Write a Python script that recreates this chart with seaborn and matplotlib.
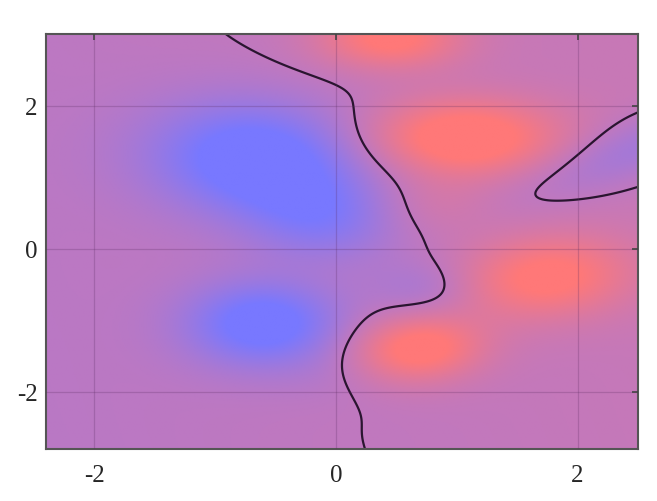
import numpy as np
import seaborn as sns
import matplotlib
import matplotlib.pyplot as plt
matplotlib.use('Agg')

# bumps: centre x, centre y, spread x, spread y, tilt (deg), strength
bump_x = [-0.65, -0.60, -0.10, 1.05, 0.45, 0.68, 1.75, 2.50, 0.72, 0.80, 0.00]
bump_y = [1.25, -1.05, 0.40, 1.55, 2.95, -1.40, -0.40, 1.40, -0.55, 0.60, -1.75]
bump_sx = [0.62, 0.45, 0.45, 0.55, 0.42, 0.38, 0.50, 0.75, 0.30, 0.35, 0.35]
bump_sy = [0.55, 0.42, 0.42, 0.38, 0.30, 0.32, 0.40, 0.27, 0.28, 0.30, 0.30]
bump_tilt = [-20, 0, -30, 0, 0, 15, 15, 33, 0, 0, 0]
bump_amp = [-1.2, -1.1, -0.6, 1.15, 0.95, 1.05, 0.95, -0.47, -0.32, 0.22, -0.08]
base = [0.012, 0.032, 0.007]  # offset, x slope, y slope

x_range = [-2.4, 2.5]
y_range = [-2.8, 3.0]
ticks = [-2, 0, 2]


def main():
    sns.set_style('white')
    plt.rcParams['font.family'] = ['Liberation Serif', 'DejaVu Serif']

    xs = np.linspace(x_range[0], x_range[1], 400)
    ys = np.linspace(y_range[0], y_range[1], 400)
    X, Y = np.meshgrid(xs, ys)
    Z = base[0] + base[1] * X + base[2] * Y
    for cx, cy, sx, sy, t, a in zip(bump_x, bump_y, bump_sx, bump_sy, bump_tilt, bump_amp):
        th = np.deg2rad(t)
        u = (X - cx) * np.cos(th) + (Y - cy) * np.sin(th)
        v = -(X - cx) * np.sin(th) + (Y - cy) * np.cos(th)
        Z += a * np.exp(-(u ** 2 / (2 * sx ** 2) + v ** 2 / (2 * sy ** 2)))

    cmap = sns.blend_palette(['#7878ff', '#c078bf', '#ff7878'], as_cmap=True)

    fig = plt.figure(figsize=(6.57, 5.02), dpi=100)
    ax = fig.add_axes([0.070, 0.1036, 0.901, 0.8266])
    ax.imshow(Z, extent=[x_range[0], x_range[1], y_range[0], y_range[1]],
              origin='lower', cmap=cmap, vmin=-0.9, vmax=0.9, aspect='auto',
              interpolation='bilinear')
    ax.contour(X, Y, Z, levels=[0], colors='#2a1530', linewidths=1.6)

    ax.set_xlim(x_range)
    ax.set_ylim(y_range)
    ax.set_xticks(ticks)
    ax.set_yticks(ticks)
    ax.set_xticklabels([str(t) for t in ticks])
    ax.set_yticklabels([str(t) for t in ticks])
    ax.grid(True, color='#5a2a60', alpha=0.25, linewidth=0.9)
    ax.set_axisbelow(False)
    ax.tick_params(direction='in', length=4, width=1.2, color='#444444',
                   top=True, right=True, labelsize=18)
    ax.tick_params(axis='x', pad=11)
    ax.tick_params(axis='y', pad=6)
    for s in ax.spines.values():
        s.set_color('#555555')
        s.set_linewidth(1.5)

    plt.savefig('out.png', dpi=100)


if __name__ == '__main__':
    main()
